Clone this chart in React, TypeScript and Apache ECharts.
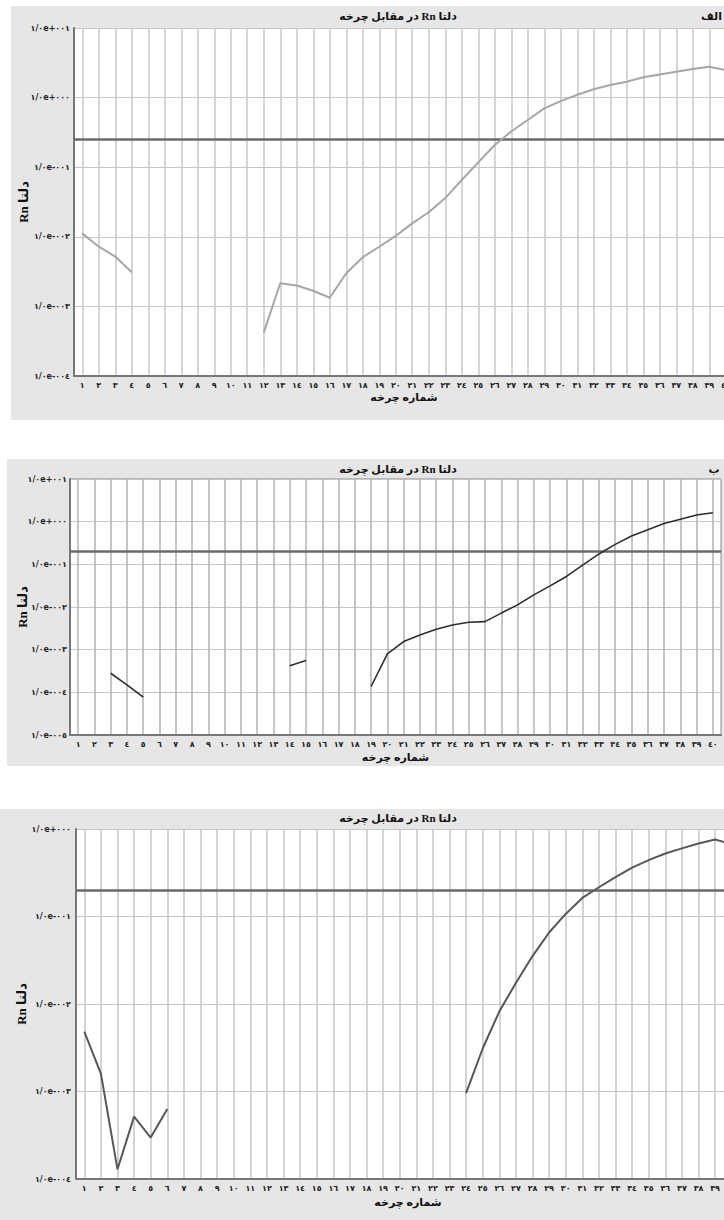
import React, { useEffect, useRef } from "react";
import * as echarts from "echarts";

// cycle numbers (شماره چرخه)
const cycles = [1, 2, 3, 4, 5, 6, 7, 8, 9, 10, 11, 12, 13, 14, 15, 16, 17, 18, 19, 20, 21, 22, 23, 24, 25, 26, 27, 28, 29, 30, 31, 32, 33, 34, 35, 36, 37, 38, 39, 40];

// panel الف
const deltaRnA = [0.0112, 0.0072, 0.0052, 0.0031, null, null, null, null, null, null, null,
  0.00042, 0.00215, 0.002, 0.00168, 0.00133, 0.00299, 0.00508, 0.0072, 0.0103, 0.0156, 0.0225,
  0.036, 0.0655, 0.1175, 0.208, 0.326, 0.477, 0.7, 0.89, 1.1, 1.32, 1.52, 1.69, 1.96, 2.14,
  2.36, 2.58, 2.78, 2.49];

// panel ب
const deltaRnB = [null, null, 0.00028, 0.00015, 0.000077, null, null, null, null, null, null, null, null,
  0.00042, 0.00056, null, null, null, 0.000137, 0.0008, 0.00155, 0.00222, 0.003, 0.0038, 0.0044,
  0.00455, 0.0072, 0.0112, 0.0192, 0.0312, 0.052, 0.0957, 0.175, 0.294, 0.462, 0.646, 0.903,
  1.14, 1.43, 1.62];

// panel ج
const deltaRnC = [0.00483, 0.0016, 0.000129, 0.000516, 0.000298, 0.00063, null, null, null, null, null,
  null, null, null, null, null, null, null, null, null, null, null, null,
  0.00096, 0.0031, 0.0082, 0.0174, 0.0353, 0.0656, 0.107, 0.163, 0.216, 0.282, 0.362, 0.44,
  0.525, 0.6, 0.684, 0.76, 0.67];

const thresholds = [0.25, 0.2, 0.2];
const yMins = [1e-4, 1e-5, 1e-4];
const yMaxs = [10, 10, 1];

const titleText = "دلتا Rn در مقابل چرخه";
const xName = "شماره چرخه";
const yName = "دلتا Rn";
const panelLetters = ["الف", "ب"];

const AR_DIGITS = "٠١٢٣٤٥٦٧٨٩";
const toAr = (s: string) => s.replace(/[0-9]/g, (d) => AR_DIGITS[+d]);
const rtl = (s: string) => "\u202B" + s + "\u202C";

const serif = "'Liberation Serif', 'DejaVu Serif', 'DejaVu Sans', serif";
const sans = "'DejaVu Sans', 'Noto Sans', sans-serif";

const yLabel = (v: number) => {
  const e = Math.round(Math.log10(v));
  return "١/٠e" + (e < 0 ? "-" : "+") + toAr(String(Math.abs(e)).padStart(3, "0"));
};

export default function App() {
  const ref = useRef<HTMLDivElement>(null);
  useEffect(() => {
    if (!ref.current) return;
    const chart = echarts.init(ref.current, undefined, { renderer: "svg" });

    const grids = [
      { left: 74, top: 28, width: 660, height: 348 },
      { left: 70, top: 479, width: 651, height: 256 },
      { left: 76, top: 829, width: 664, height: 350 },
    ];
    const xNameGaps = [15, 16, 17];
    const yNameGaps = [44, 41, 48];
    const yLabelMargins = [4, 3, 5];
    const vGridColors = ["#c9c9c9", "#b2b2b2", "#c4c4c4"];
    const lineColors = ["#a6a6a6", "#2e2e2e", "#575757"];
    const lineWidths = [2, 1.6, 2];
    const datas = [deltaRnA, deltaRnB, deltaRnC];

    const option: any = {
      animation: false,
      backgroundColor: "#ffffff",
      graphic: [
        { type: "rect", z: -10, shape: { x: 11, y: 6, width: 760, height: 414 }, style: { fill: "#e6e6e6" } },
        { type: "rect", z: -10, shape: { x: 7, y: 459, width: 760, height: 307 }, style: { fill: "#e6e6e6" } },
        { type: "rect", z: -10, shape: { x: 0, y: 809, width: 760, height: 411 }, style: { fill: "#e6e6e6" } },
        ...[16, 469, 818].map((y) => ({
          type: "text", z: 10, x: 398, y,
          style: { text: rtl(titleText), align: "center", verticalAlign: "middle", fontSize: 11, fontWeight: "bold", fontFamily: serif, fill: "#111" },
        })),
        { type: "text", z: 10, x: 722, y: 16, style: { text: panelLetters[0], align: "right", verticalAlign: "middle", fontSize: 11, fontWeight: "bold", fontFamily: serif, fill: "#111" } },
        { type: "text", z: 10, x: 714, y: 469, style: { text: panelLetters[1], align: "center", verticalAlign: "middle", fontSize: 11, fontWeight: "bold", fontFamily: serif, fill: "#111" } },
      ],
      grid: grids.map((g, i) => ({
        ...g,
        show: true,
        backgroundColor: "#ffffff",
        borderWidth: i === 1 ? 1 : 0,
        borderColor: "#8a8a8a",
      })),
      xAxis: grids.map((_, i) => ({
        type: "category",
        gridIndex: i,
        data: cycles.map((c) => toAr(String(c))),
        boundaryGap: true,
        name: xName,
        nameLocation: "middle",
        nameGap: xNameGaps[i],
        nameMoveOverlap: false,
        nameTextStyle: { fontSize: 11, fontWeight: "bold", fontFamily: serif, color: "#111" },
        axisLine: { show: true, lineStyle: { color: "#777777", width: 2 } },
        axisTick: { show: false },
        axisLabel: { interval: 0, fontSize: 8, fontWeight: "bold", color: "#222", margin: 5, fontFamily: sans },
        splitLine: { show: true, interval: 0, alignWithLabel: true, lineStyle: { color: vGridColors[i], width: 1.5 } },
      })),
      yAxis: grids.map((_, i) => ({
        type: "log",
        logBase: 10,
        gridIndex: i,
        min: yMins[i],
        max: yMaxs[i],
        name: rtl(yName),
        nameLocation: "middle",
        nameRotate: 90,
        nameGap: yNameGaps[i],
        nameMoveOverlap: false,
        nameTextStyle: { fontSize: 13, fontWeight: "bold", fontFamily: serif, color: "#111" },
        axisLine: { show: true, lineStyle: { color: "#777777", width: 2 } },
        axisTick: { show: false },
        minorTick: { show: false },
        axisLabel: { formatter: yLabel, fontSize: 8, fontWeight: "bold", color: "#222", margin: yLabelMargins[i], fontFamily: sans },
        splitLine: { show: true, lineStyle: { color: "#c6c6c6", width: 1 } },
      })),
      series: datas.map((d, i) => ({
        type: "line",
        xAxisIndex: i,
        yAxisIndex: i,
        data: d,
        symbol: "none",
        connectNulls: false,
        lineStyle: { color: lineColors[i], width: lineWidths[i] },
        z: 5,
        markLine: {
          silent: true,
          symbol: ["none", "none"],
          label: { show: false },
          lineStyle: { color: "#6a6a6a", width: 2.5, type: "solid" },
          data: [{ yAxis: thresholds[i] }],
        },
      })),
    };
    chart.setOption(option);
    return () => chart.dispose();
  }, []);

  return (
    <div style={{ position: "absolute", left: 0, top: 0, width: 724, height: 1220, overflow: "hidden", background: "#fff" }}>
      <div ref={ref} style={{ width: 760, height: 1220 }} />
    </div>
  );
}
